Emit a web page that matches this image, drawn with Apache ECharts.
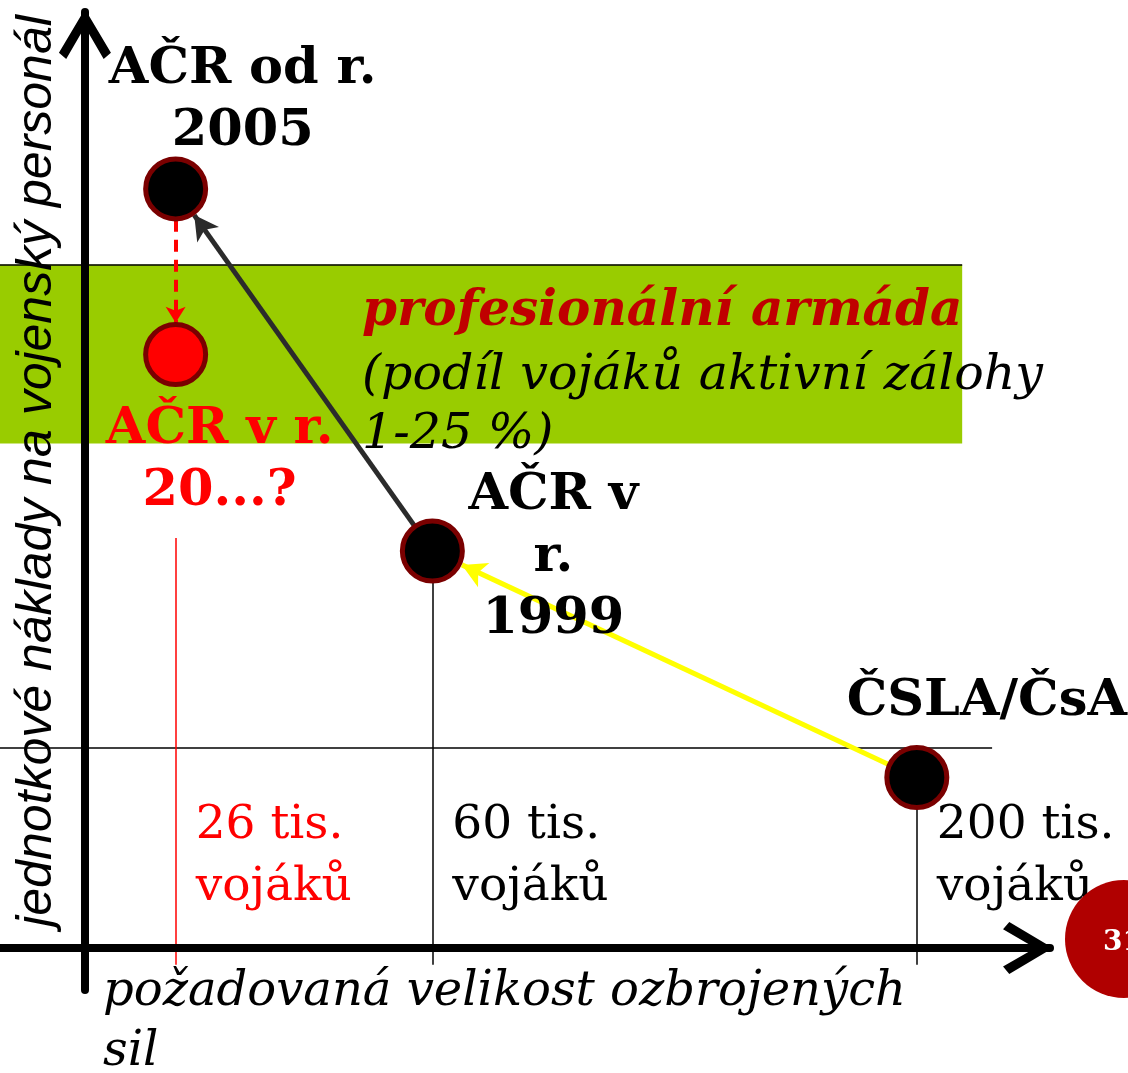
<!DOCTYPE html>
<html lang="cs">
<head>
<meta charset="UTF-8" />
<title>Náklady na vojenský personál</title>
<script src="https://cdn.jsdelivr.net/npm/echarts@6/dist/echarts.min.js"></script>
<style>html,body{margin:0;padding:0;background:#fff}</style>
</head>
<body>
<div id="main" style="width:1128px;height:1073px"></div>
<script>
// diagram units: x = required size of the armed forces, y = unit cost per soldier (relative)
const pointNames = ["AČR od r.\n2005", "AČR v r.\n20...?", "AČR v\nr.\n1999", "ČSLA/ČsA"];
const pointX = [9.4, 9.4, 36.0, 86.2];
const pointY = [81.1, 63.4, 42.4, 18.2];

const forceLabels = ["26 tis.\nvojáků", "60 tis.\nvojáků", "200 tis.\nvojáků"];
const forceX = [9.4, 36.0, 86.2];

const bandRange = [53.9, 73.0];     // profesionální armáda
const conscriptLevel = 21.4;
const bandTitle = "profesionální armáda";
const bandNote = "(podíl vojáků aktivní zálohy\n1-25 %)";
const yTitle = "jednotkové náklady na vojenský personál";
const xTitle = "požadovaná velikost ozbrojených\nsil";

// moves between states: [from, to] index into the points
const transitions = [[3, 2], [2, 0], [0, 1]];

const serif = "'DejaVu Serif', 'Liberation Serif', serif";

const pointLook = [
  { fill: "#000000", text: "#000000", offset: [67, -88] },
  { fill: "#ff0000", text: "#ff0000", offset: [44, 106] },
  { fill: "#000000", text: "#000000", offset: [121, 7] },
  { fill: "#000000", text: "#000000", offset: [70, -76] }
];
const arrowLook = [
  { color: "#ffff00", type: "solid", width: 5, size: [20, 24] },
  { color: "#2b2b2b", type: "solid", width: 5, size: [20, 24] },
  { color: "#ff0000", type: [12, 8], width: 4, size: [15, 16] }
];
const dropTop = [43.8, pointY[2], conscriptLevel];
const dropColor = ["#ff0000", "#000000", "#000000"];

function trim(a, b, r0, r1) {
  const dx = b[0] - a[0], dy = b[1] - a[1], len = Math.hypot(dx, dy);
  return [
    [a[0] + dx * r0 / len, a[1] + dy * r0 / len],
    [b[0] - dx * r1 / len, b[1] - dy * r1 / len]
  ];
}

const chevron = "path://M50,0 L100,84 L86,96 L50,34 L14,96 L0,84 Z";

let myChart = echarts.init(document.getElementById("main"));

let options = {
  animation: false,
  grid: { left: 0, right: 78, top: 12, bottom: 83, containLabel: false, outerBoundsMode: "none" },
  xAxis: {
    type: "value", min: -8.8, max: 100, z: 10,
    axisLine: { onZero: true, lineStyle: { color: "#000", width: 8 },
      symbol: ["none", chevron], symbolSize: [52, 50], symbolOffset: [0, -22] },
    axisTick: { show: false }, axisLabel: { show: false }, splitLine: { show: false }
  },
  yAxis: {
    type: "value", min: -4.5, max: 100, z: 10,
    axisLine: { onZero: true, lineStyle: { color: "#000", width: 8 },
      symbol: ["none", chevron], symbolSize: [52, 50], symbolOffset: [0, -22] },
    axisTick: { show: false }, axisLabel: { show: false }, splitLine: { show: false }
  },
  series: [
    {
      type: "scatter", data: [], z: 1, silent: true,
      markArea: {
        silent: true,
        itemStyle: { color: "#99cc00" },
        data: [[{ coord: [-8.8, bandRange[0]] }, { coord: [90.9, bandRange[1]] }]]
      },
      markLine: {
        silent: true, symbol: "none", label: { show: false },
        lineStyle: { color: "#000", width: 1.5, type: "solid" },
        data: [
          [{ coord: [-8.8, bandRange[1]] }, { coord: [90.9, bandRange[1]] }],
          [{ coord: [-8.8, conscriptLevel] }, { coord: [94.0, conscriptLevel] }]
        ].concat(forceX.map((x, i) => [
          { coord: [x, dropTop[i]], lineStyle: { color: dropColor[i], width: 1.5 } },
          { coord: [x, -1.8] }
        ]))
      }
    },
    {
      type: "scatter", data: [], z: 3, silent: true,
      markLine: {
        silent: true, symbol: ["none", "arrow"], label: { show: false },
        data: transitions.map((t, i) => {
          const a = [pointX[t[0]], pointY[t[0]]];
          const b = [pointX[t[1]], pointY[t[1]]];
          const seg = trim(a, b, 3.3, 3.4);
          return [
            { coord: seg[0], symbol: "none",
              lineStyle: { color: arrowLook[i].color, width: arrowLook[i].width, type: arrowLook[i].type } },
            { coord: seg[1], symbol: "arrow", symbolSize: arrowLook[i].size }
          ];
        })
      }
    },
    {
      type: "scatter", z: 5, silent: true,
      symbolSize: 60,
      data: pointNames.map((n, i) => ({
        name: n,
        value: [pointX[i], pointY[i]],
        itemStyle: { color: pointLook[i].fill, borderColor: "#7a0000", borderWidth: 5, opacity: 1 },
        label: {
          show: true, position: "inside", formatter: n, offset: pointLook[i].offset,
          color: pointLook[i].text, fontFamily: serif, fontWeight: "bold",
          fontSize: 51, lineHeight: 62, align: "center", verticalAlign: "middle"
        }
      }))
    },
    {
      type: "scatter", z: 5, silent: true,
      symbolSize: 1, itemStyle: { color: "transparent", opacity: 1 },
      data: forceLabels.map((n, i) => ({
        name: n,
        value: [forceX[i], 0],
        label: {
          show: true, position: "inside", formatter: n, offset: [20, -91],
          color: i === 0 ? "#ff0000" : "#000000", fontFamily: serif,
          fontSize: 47, lineHeight: 62, align: "left", verticalAlign: "middle"
        }
      }))
    }
  ],
  graphic: [
    { type: "text", z: 20, x: 37, y: 471, rotation: Math.PI / 2,
      style: { text: yTitle, fill: "#000", align: "center", verticalAlign: "middle",
        font: "italic 50px 'Liberation Sans', Arial, sans-serif" } },
    { type: "text", z: 20, style: { text: bandTitle, x: 362, y: 312, fill: "#c00000",
        font: "italic bold 50px " + serif, verticalAlign: "middle" } },
    { type: "text", z: 20, style: { text: bandNote, x: 362, y: 406, fill: "#000",
        font: "italic 49px " + serif, lineHeight: 59, verticalAlign: "middle" } },
    { type: "text", z: 20, style: { text: xTitle, x: 103, y: 1023, fill: "#000",
        font: "italic 48px " + serif, lineHeight: 60, verticalAlign: "middle" } },
    { type: "circle", z: 30, shape: { cx: 1124, cy: 939, r: 59 }, style: { fill: "#b00000" } },
    { type: "text", z: 31, style: { text: "31", x: 1103, y: 943, fill: "#fff",
        font: "bold 28px " + serif, verticalAlign: "middle" } }
  ]
};

myChart.setOption(options);
</script>
</body>
</html>
